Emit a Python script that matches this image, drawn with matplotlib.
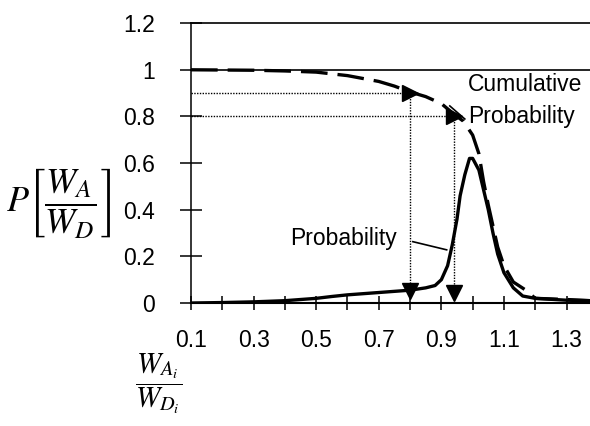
import matplotlib
matplotlib.use("Agg")
import matplotlib.pyplot as plt

plt.rcParams['font.family'] = ['Liberation Sans', 'DejaVu Sans']
plt.rcParams['mathtext.fontset'] = 'stix'

# ---- data ----
ratio = [0.1, 0.2, 0.3, 0.4, 0.5, 0.55, 0.6, 0.7, 0.8, 0.85, 0.88, 0.9, 0.92,
         0.935, 0.95, 0.96, 0.975, 0.99, 1.0, 1.02, 1.05, 1.065, 1.08, 1.1,
         1.13, 1.16, 1.2, 1.3, 1.375]
probability = [0.0, 0.002, 0.005, 0.01, 0.02, 0.028, 0.035, 0.045, 0.055, 0.065,
               0.075, 0.1, 0.16, 0.25, 0.36, 0.46, 0.55, 0.62, 0.62, 0.57, 0.40,
               0.30, 0.21, 0.13, 0.065, 0.03, 0.02, 0.012, 0.01]

cum_ratio = [0.1, 0.3, 0.4, 0.5, 0.6, 0.7, 0.75, 0.8, 0.85, 0.9, 0.94, 0.97,
             1.0, 1.02, 1.035, 1.05, 1.08, 1.1, 1.13, 1.17, 1.2, 1.3, 1.375]
cumulative = [1.0, 0.998, 0.995, 0.99, 0.975, 0.95, 0.93, 0.905, 0.885, 0.855,
              0.81, 0.78, 0.72, 0.64, 0.52, 0.42, 0.24, 0.16, 0.09, 0.055,
              0.02, 0.015, 0.01]

# levels
read_ratio = [0.8, 0.94]
read_cum = [0.9, 0.8]
read_prob = [0.05, 0.045]

grid_levels = [1.0, 1.2]
yticks = [0, 0.2, 0.4, 0.6, 0.8, 1, 1.2]
yticklabels = ['0', '0.2', '0.4', '0.6', '0.8', '1', '1.2']
xticks = [0.1, 0.2, 0.3, 0.4, 0.5, 0.6, 0.7, 0.8, 0.9, 1.0, 1.1, 1.2, 1.3]
xticklabels = ['0.1', '', '0.3', '', '0.5', '', '0.7', '', '0.9', '', '1.1', '', '1.3']

fs = 16.5

fig = plt.figure(figsize=(5.9, 4.26), dpi=100)
ax = fig.add_axes([0.3237, 0.2887, 0.6763, 0.657])

for lvl in grid_levels:
    ax.axhline(lvl, color='black', lw=1.2, zorder=1, clip_on=False)

# reading lines
for xr, yc, yp in zip(read_ratio, read_cum, read_prob):
    ax.plot([0.1, xr], [yc, yc], color='black', lw=1.0, ls=(0, (1, 1)), zorder=2)
    ax.plot([xr, xr], [yc, yp], color='black', lw=1.0, ls=(0, (1, 1)), zorder=2)

ax.plot(cum_ratio, cumulative, color='black', lw=2.4, ls=(0, (8, 3)), zorder=3)
ax.plot(ratio, probability, color='black', lw=2.4, zorder=4)

ax.plot(read_ratio, read_cum, ls='none', marker='>', ms=12, color='black', zorder=5)
ax.plot(read_ratio, read_prob, ls='none', marker='v', ms=12, color='black', zorder=5)

ax.text(0.984, 0.935, 'Cumulative', fontsize=fs, ha='left', va='center')
ax.text(0.984, 0.80, 'Probability', fontsize=fs, ha='left', va='center')
ax.plot([0.927, 0.975], [0.845, 0.789], color='black', lw=1.2)

ax.text(0.416, 0.276, 'Probability', fontsize=fs, ha='left', va='center',
        bbox=dict(facecolor='white', edgecolor='none', pad=1))
ax.plot([0.809, 0.917], [0.263, 0.228], color='black', lw=1.2)

ax.set_xlim(0.1, 1.375)
ax.set_ylim(0, 1.2)
ax.set_yticks(yticks)
ax.set_yticklabels(yticklabels)
ax.set_xticks(xticks)
ax.set_xticklabels(xticklabels)
ax.tick_params(axis='y', direction='inout', length=16, width=1.1, pad=18, labelsize=fs)
ax.tick_params(axis='x', direction='inout', length=10, width=1.1, pad=14, labelsize=fs)

for side in ['top', 'right']:
    ax.spines[side].set_visible(False)
ax.spines['left'].set_linewidth(1.1)
ax.spines['bottom'].set_linewidth(1.5)

fig.text(0.10, 0.523, r'$P\left[\dfrac{W_A}{W_D}\right]$', fontsize=26,
         ha='center', va='center')
fig.text(0.268, 0.10, r'$\dfrac{W_{A_i}}{W_{D_i}}$', fontsize=21,
         ha='center', va='center')

fig.savefig('out.png', dpi=100)
